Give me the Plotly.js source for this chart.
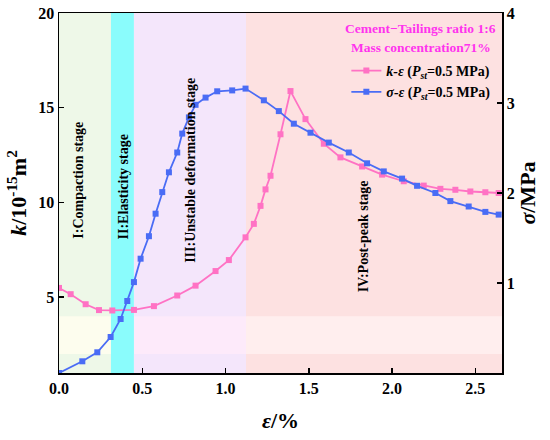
<!DOCTYPE html>
<html>
<head>
<meta charset="utf-8">
<script src="https://cdn.plot.ly/plotly-3.0.1.min.js"></script>
<style>html,body{margin:0;padding:0;background:#fff;}#chart{width:550px;height:440px;}</style>
</head>
<body>
<div id="chart"></div>
<script>
// Permeability k (10^-15 m^2) vs strain
var epsK = [0, 0.07, 0.16, 0.24, 0.32, 0.45, 0.57, 0.71, 0.82, 0.94, 1.02, 1.12, 1.17, 1.21, 1.24, 1.27, 1.33, 1.39, 1.48, 1.59, 1.69, 1.82, 1.94, 2.07, 2.19, 2.29, 2.38, 2.47, 2.56, 2.64];
var kVals = [5.49, 5.16, 4.63, 4.32, 4.30, 4.33, 4.53, 5.09, 5.61, 6.38, 6.96, 8.16, 8.87, 9.82, 10.69, 11.41, 13.6, 15.88, 14.4, 13.1, 12.38, 11.9, 11.47, 11.12, 10.89, 10.72, 10.67, 10.58, 10.54, 10.5];
// Stress sigma (MPa) vs strain
var epsS = [0, 0.14, 0.23, 0.31, 0.37, 0.41, 0.45, 0.49, 0.54, 0.58, 0.62, 0.66, 0.71, 0.74, 0.78, 0.82, 0.88, 0.95, 1.04, 1.12, 1.23, 1.32, 1.41, 1.51, 1.62, 1.74, 1.85, 1.95, 2.06, 2.15, 2.26, 2.35, 2.46, 2.56, 2.64];
var sigmaVals = [0, 0.13, 0.23, 0.40, 0.60, 0.80, 1.01, 1.27, 1.52, 1.77, 2.01, 2.23, 2.45, 2.66, 2.84, 2.98, 3.06, 3.13, 3.14, 3.16, 3.03, 2.91, 2.77, 2.67, 2.56, 2.45, 2.33, 2.24, 2.16, 2.08, 2.00, 1.91, 1.85, 1.79, 1.76];
// Stage boundaries (strain %)
var stageEdges = [0, 0.312, 0.45, 1.123, 2.66];
var stageNames = ["I:Compaction stage", "II:Elasticity stage", "III:Unstable deformation stage", "IV:Post-peak stage"];
var stageLabelX = [0.12, 0.385, 0.79, 1.83];
var stageLabelY = [11.2, 10.8, 11.7, 8.2];
var stageColors = ["#eef8e8", "#8afcfc", "#f4e6fb", "#fde1e1"];
var bandColors = ["#fdfdee", "#8afcfc", "#fdeafa", "#ffeeee"];
var bandRange = [2, 4];
var header = ["Cement\u2212Tailings ratio 1:6", "Mass concentration71%"];

var FONT = "Liberation Serif, Times New Roman, serif";
var pink = "#ff72c4", blue = "#4a6cf5";

var shapes = [];
for (var i = 0; i < 4; i++) {
  shapes.push({type: "rect", xref: "x", yref: "paper", x0: stageEdges[i], x1: stageEdges[i+1], y0: 0, y1: 1,
    fillcolor: stageColors[i], line: {width: 0}, layer: "below"});
  shapes.push({type: "rect", xref: "x", yref: "y", x0: stageEdges[i], x1: stageEdges[i+1], y0: bandRange[0], y1: bandRange[1],
    fillcolor: bandColors[i], line: {width: 0}, layer: "below"});
}
var annotations = [];
for (var j = 0; j < 4; j++) {
  annotations.push({x: stageLabelX[j], y: stageLabelY[j], xref: "x", yref: "y", text: "<b>" + stageNames[j] + "</b>",
    textangle: -90, showarrow: false, font: {family: FONT, size: 14, color: "#000"}});
}
// header lines (plot top at 13px, bottom at 373px)
annotations.push({x: 0.817, y: (373 - 29) / 360, xref: "paper", yref: "paper", xanchor: "center", yanchor: "middle",
  text: "<b>" + header[0] + "</b>", showarrow: false, font: {family: FONT, size: 13.5, color: "#ff33ee"}});
annotations.push({x: 0.817, y: (373 - 47) / 360, xref: "paper", yref: "paper", xanchor: "center", yanchor: "middle",
  text: "<b>" + header[1] + "</b>", showarrow: false, font: {family: FONT, size: 13.5, color: "#ff33ee"}});

var traces = [
  {x: epsK, y: kVals, type: "scatter", mode: "lines+markers", yaxis: "y",
   name: "<b><i>k-\u03b5</i> (<i>P<sub>st</sub></i>=0.5 MPa)</b>",
   line: {color: pink, width: 1.8}, marker: {symbol: "square", size: 6, color: pink}},
  {x: epsS, y: sigmaVals, type: "scatter", mode: "lines+markers", yaxis: "y2",
   name: "<b><i>\u03c3-\u03b5</i> (<i>P<sub>st</sub></i>=0.5 MPa)</b>",
   line: {color: blue, width: 1.8}, marker: {symbol: "square", size: 6, color: blue}}
];

var axisFont = {family: FONT, size: 16, color: "#000"};
var layout = {
  width: 550, height: 440,
  margin: {l: 59, r: 48, t: 13, b: 67},
  paper_bgcolor: "#fff", plot_bgcolor: "#fff",
  font: {family: FONT, color: "#000"},
  showlegend: true,
  legend: {x: 0.985, xanchor: "right", y: (373 - 55) / 360, yanchor: "top", bgcolor: "rgba(0,0,0,0)",
    font: {family: FONT, size: 14, color: "#000"}, tracegroupgap: 0},
  xaxis: {range: [0, 2.66], tickvals: [0, 0.5, 1.0, 1.5, 2.0, 2.5], ticktext: ["<b>0.0</b>", "<b>0.5</b>", "<b>1.0</b>", "<b>1.5</b>", "<b>2.0</b>", "<b>2.5</b>"],
    ticks: "inside", ticklen: 5, tickwidth: 1.5, tickcolor: "#000",
    showline: true, linecolor: "#000", linewidth: 1.5, mirror: true, showgrid: false, zeroline: false,
    tickfont: axisFont,
    title: {text: "<b><i>\u03b5</i>/%</b>", font: {family: FONT, size: 22, color: "#000"}, standoff: 17}},
  yaxis: {range: [1, 20], tickvals: [5, 10, 15, 20], ticktext: ["<b>5</b>", "<b>10</b>", "<b>15</b>", "<b>20</b>"],
    ticks: "inside", ticklen: 5, tickwidth: 1.5, tickcolor: "#000",
    showline: true, linecolor: "#000", linewidth: 1.5, showgrid: false, zeroline: false,
    tickfont: axisFont,
    title: {text: "<b><i>k</i>/10<sup>-15</sup>m<sup>2</sup></b>", font: {family: FONT, size: 22, color: "#000"}, standoff: 5}},
  yaxis2: {range: [0, 4], tickvals: [1, 2, 3, 4], ticktext: ["<b>1</b>", "<b>2</b>", "<b>3</b>", "<b>4</b>"],
    overlaying: "y", side: "right",
    ticks: "inside", ticklen: 5, tickwidth: 1.5, tickcolor: "#000",
    showline: true, linecolor: "#000", linewidth: 1.5, showgrid: false, zeroline: false,
    tickfont: axisFont,
    title: {text: "<b><i>\u03c3</i>/MPa</b>", font: {family: FONT, size: 22, color: "#000"}, standoff: 6}},
  shapes: shapes,
  annotations: annotations
};
Plotly.newPlot("chart", traces, layout, {displayModeBar: false, staticPlot: true});
</script>
</body>
</html>
